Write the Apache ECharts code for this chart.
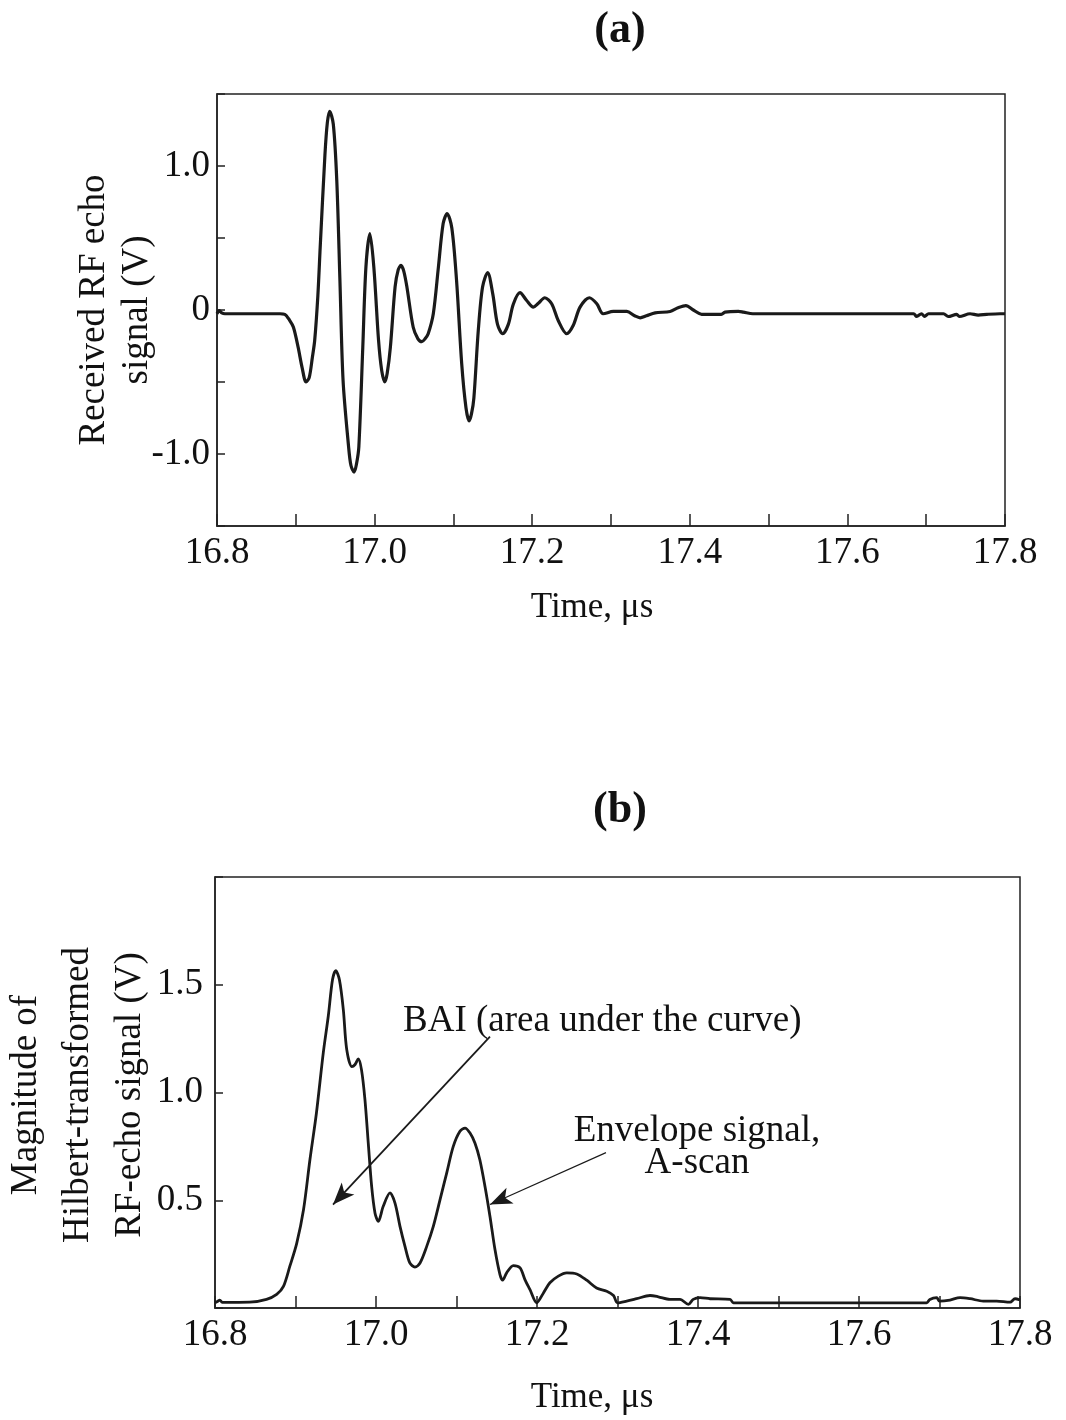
<!DOCTYPE html>
<html>
<head>
<meta charset="utf-8">
<script src="https://cdn.jsdelivr.net/npm/echarts@6/dist/echarts.min.js"></script>
<style>
html,body{margin:0;padding:0;background:#fff;}
#chart{width:1066px;height:1420px;}
</style>
</head>
<body>
<div id="chart"></div>
<script>
// ---- Data: (a) received RF echo signal ----
var rfTime = [16.800,16.803,16.806,16.810,16.850,16.880,16.886,16.892,16.897,16.903,16.908,16.913,16.917,16.921,16.924,16.928,16.931,16.937,16.940,16.943,16.9476,16.952,16.956,16.960,16.967,16.970,16.974,16.977,16.980,16.985,16.989,16.994,16.999,17.005,17.009,17.013,17.016,17.020,17.026,17.030,17.0335,17.037,17.041,17.049,17.055,17.060,17.064,17.068,17.0745,17.081,17.087,17.092,17.098,17.104,17.1105,17.116,17.120,17.123,17.126,17.1316,17.137,17.1435,17.150,17.156,17.1626,17.1697,17.176,17.1845,17.193,17.2014,17.2078,17.216,17.2247,17.233,17.2438,17.252,17.2607,17.2725,17.282,17.290,17.303,17.320,17.330,17.337,17.345,17.356,17.375,17.385,17.395,17.4045,17.415,17.440,17.4447,17.4616,17.468,17.480,17.684,17.688,17.694,17.698,17.703,17.722,17.728,17.7387,17.742,17.7556,17.766,17.777,17.7937,17.800];
var rfVolt = [-0.026,-0.005,-0.020,-0.026,-0.026,-0.026,-0.030,-0.070,-0.120,-0.260,-0.400,-0.500,-0.470,-0.330,-0.210,0.100,0.440,1.080,1.300,1.380,1.290,0.900,0.205,-0.490,-0.950,-1.080,-1.126,-1.070,-0.950,-0.260,0.300,0.530,0.300,-0.210,-0.420,-0.500,-0.440,-0.260,0.160,0.280,0.310,0.270,0.160,-0.120,-0.200,-0.220,-0.200,-0.165,-0.026,0.300,0.600,0.670,0.570,0.205,-0.370,-0.680,-0.770,-0.720,-0.610,-0.140,0.160,0.260,0.110,-0.100,-0.165,-0.100,0.040,0.120,0.066,0.020,0.047,0.085,0.043,-0.073,-0.165,-0.108,0.020,0.085,0.043,-0.026,-0.010,-0.010,-0.040,-0.054,-0.040,-0.020,-0.010,0.015,0.030,0.000,-0.030,-0.030,-0.015,-0.010,-0.015,-0.026,-0.026,-0.045,-0.026,-0.045,-0.026,-0.026,-0.045,-0.030,-0.045,-0.026,-0.035,-0.030,-0.026,-0.026];

// ---- Data: (b) envelope (magnitude of Hilbert-transformed signal) ----
var envTime = [16.800,16.803,16.806,16.809,16.843,16.864,16.8766,16.885,16.893,16.9015,16.910,16.918,16.926,16.9345,16.9407,16.946,16.950,16.9545,16.9594,16.9636,16.970,16.974,16.978,16.982,16.9863,16.9904,16.9946,16.9988,17.0029,17.009,17.0174,17.0236,17.0298,17.036,17.042,17.0484,17.0547,17.063,17.0712,17.0795,17.0878,17.096,17.1043,17.1106,17.1168,17.123,17.129,17.1354,17.1416,17.1478,17.154,17.1574,17.1623,17.1706,17.179,17.185,17.1913,17.1996,17.208,17.216,17.2265,17.237,17.2494,17.2618,17.274,17.2866,17.295,17.300,17.3114,17.3238,17.3404,17.3507,17.3652,17.3776,17.388,17.394,17.4025,17.415,17.4398,17.444,17.4646,17.684,17.688,17.6965,17.700,17.713,17.7255,17.738,17.7544,17.771,17.7876,17.7938,17.800];
var envVolt = [0.024,0.030,0.037,0.026,0.027,0.040,0.063,0.100,0.194,0.300,0.457,0.690,0.905,1.184,1.354,1.524,1.566,1.524,1.385,1.200,1.120,1.130,1.156,1.105,0.966,0.765,0.564,0.440,0.402,0.472,0.534,0.487,0.379,0.286,0.209,0.190,0.209,0.286,0.379,0.502,0.626,0.750,0.820,0.835,0.812,0.765,0.688,0.564,0.425,0.271,0.155,0.129,0.163,0.197,0.186,0.132,0.085,0.024,0.070,0.117,0.148,0.163,0.158,0.129,0.093,0.078,0.058,0.024,0.032,0.043,0.058,0.052,0.040,0.040,0.017,0.040,0.048,0.043,0.040,0.024,0.024,0.024,0.040,0.048,0.032,0.037,0.048,0.043,0.032,0.032,0.027,0.043,0.037];

// ---- Tick settings ----
var xMin = 16.8, xMax = 17.8, xStep = 0.1;
var rfYMin = -1.5, rfYMax = 1.5, rfYStep = 0.5;
var envYMin = 0, envYMax = 2.0, envYStep = 0.5;

// ---- Annotation arrows (data coordinates in panel b) ----
var baiArrow = [[17.1416, 1.259], [16.9466, 0.48]];
var envArrow = [[17.2857, 0.721], [17.1416, 0.48]];

var SERIF = "'Liberation Serif','Times New Roman',Times,serif";
var INK = '#1a1a1a';

function pairs(xs, ys){ return xs.map(function(x,i){ return [x, ys[i]]; }); }

function xLabel(v){
  var k = Math.round(v*10);
  return (k % 2 === 0) ? (k/10).toFixed(1) : '';
}
function rfYLabel(v){
  if (Math.abs(v) < 1e-9) return '0';
  if (Math.abs(Math.abs(v) - 1) < 1e-9) return v.toFixed(1);
  return '';
}
function envYLabel(v){
  if (v > 0.01 && v < 1.99) return v.toFixed(1);
  return '';
}

function xAxisCfg(gi){
  return {
    type:'value', gridIndex:gi, min:xMin, max:xMax, interval:xStep,
    axisLine:{show:true, onZero:false, lineStyle:{color:'#222', width:1.5}},
    axisTick:{show:true, inside:true, length:12, lineStyle:{color:'#222', width:1.5}},
    axisLabel:{formatter:xLabel, color:'#111', fontFamily:SERIF, fontSize:37, margin:9, hideOverlap:false, showMinLabel:true, showMaxLabel:true},
    splitLine:{show:false}
  };
}

var chart = echarts.init(document.getElementById('chart'), null, {renderer:'canvas'});
chart.setOption({
  animation:false,
  backgroundColor:'#fff',
  grid:[
    {left:217, top:94, width:788, height:432, show:true, borderColor:'#222', borderWidth:1.5, containLabel:false},
    {left:215, top:877, width:805, height:431, show:true, borderColor:'#222', borderWidth:1.5, containLabel:false}
  ],
  xAxis:[xAxisCfg(0), xAxisCfg(1)],
  yAxis:[
    {type:'value', gridIndex:0, min:rfYMin, max:rfYMax, interval:rfYStep,
     axisLine:{show:true, onZero:false, lineStyle:{color:'#222', width:1.5}},
     axisTick:{show:true, inside:true, length:8, lineStyle:{color:'#222', width:1.5}},
     axisLabel:{formatter:rfYLabel, color:'#111', fontFamily:SERIF, fontSize:37, margin:7, showMinLabel:true, showMaxLabel:true},
     splitLine:{show:false}},
    {type:'value', gridIndex:1, min:envYMin, max:envYMax, interval:envYStep,
     axisLine:{show:true, onZero:false, lineStyle:{color:'#222', width:1.5}},
     axisTick:{show:true, inside:true, length:8, lineStyle:{color:'#222', width:1.5}},
     axisLabel:{formatter:envYLabel, color:'#111', fontFamily:SERIF, fontSize:37, margin:12},
     splitLine:{show:false}}
  ],
  series:[
    {type:'line', xAxisIndex:0, yAxisIndex:0, data:pairs(rfTime, rfVolt),
     showSymbol:false, smooth:0.3, lineStyle:{color:INK, width:3.2}, silent:true},
    {type:'line', xAxisIndex:1, yAxisIndex:1, data:pairs(envTime, envVolt),
     showSymbol:false, smooth:0.3, lineStyle:{color:INK, width:2.8}, silent:true,
     markLine:{
       silent:true, symbol:['none','arrow'], symbolSize:[13,22], precision:4,
       label:{show:false}, emphasis:{disabled:true},
       data:[
         [{coord:baiArrow[0], lineStyle:{color:INK, width:1.8, type:'solid'}, itemStyle:{color:'#777', borderColor:INK, borderWidth:1}},
          {coord:baiArrow[1]}],
         [{coord:envArrow[0], lineStyle:{color:INK, width:1.1, type:'solid'}, itemStyle:{color:'#777', borderColor:INK, borderWidth:1}},
          {coord:envArrow[1]}]
       ]
     }}
  ],
  graphic:[
    {type:'text', x:620, y:31, style:{text:'(a)', font:'bold 44px '+SERIF, fill:'#111', textAlign:'center', textVerticalAlign:'middle'}},
    {type:'text', x:620, y:811, style:{text:'(b)', font:'bold 44px '+SERIF, fill:'#111', textAlign:'center', textVerticalAlign:'middle'}},
    {type:'text', x:592, y:608, style:{text:'Time, \u03bcs', font:'35px '+SERIF, fill:'#111', textAlign:'center', textVerticalAlign:'middle'}},
    {type:'text', x:592, y:1398, style:{text:'Time, \u03bcs', font:'35px '+SERIF, fill:'#111', textAlign:'center', textVerticalAlign:'middle'}},
    {type:'text', x:116, y:310, rotation:Math.PI/2, style:{text:'Received RF echo\nsignal (V)', font:'37px '+SERIF, lineHeight:43, fill:'#111', textAlign:'center', textVerticalAlign:'middle'}},
    {type:'text', x:78, y:1095, rotation:Math.PI/2, style:{text:'Magnitude of\nHilbert-transformed\nRF-echo signal (V)', font:'37px '+SERIF, lineHeight:52, fill:'#111', textAlign:'center', textVerticalAlign:'middle'}},
    {type:'text', x:403, y:1021, style:{text:'BAI (area under the curve)', font:'37px '+SERIF, fill:'#111', textAlign:'left', textVerticalAlign:'middle'}},
    {type:'text', x:697, y:1131, style:{text:'Envelope signal,', font:'37px '+SERIF, fill:'#111', textAlign:'center', textVerticalAlign:'middle'}},
    {type:'text', x:697, y:1163, style:{text:'A-scan', font:'37px '+SERIF, fill:'#111', textAlign:'center', textVerticalAlign:'middle'}}
  ]
});
</script>
</body>
</html>
